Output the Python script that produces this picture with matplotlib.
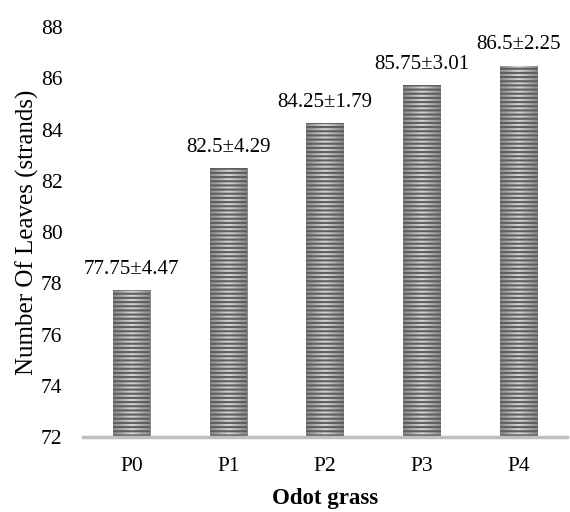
import matplotlib
matplotlib.use("Agg")
import matplotlib.pyplot as plt
import numpy as np
from matplotlib.colors import LinearSegmentedColormap

categories = ["P0", "P1", "P2", "P3", "P4"]
means = [77.75, 82.5, 84.25, 85.75, 86.5]
sds = [4.47, 4.29, 1.79, 3.01, 2.25]
labels = ["77.75±4.47", "82.5±4.29", "84.25±1.79", "85.75±3.01", "86.5±2.25"]
yticks = [72, 74, 76, 78, 80, 82, 84, 86, 88]

plt.rcParams['font.family'] = ['Liberation Serif', 'DejaVu Serif']
plt.rcParams['hatch.linewidth'] = 1.5

fig = plt.figure(figsize=(5.7, 5.12), dpi=100)
ax = fig.add_axes([0.146, 0.146, 0.849, 0.801])

x = list(range(len(categories)))
width = 0.39
bars = ax.bar(x, [m - 72 for m in means], bottom=72, width=width,
              color='none', edgecolor='#5e5e5e', linewidth=0, hatch='----', zorder=3)

# horizontal gradient fill (darker edges, lighter centre)
cmap = LinearSegmentedColormap.from_list('g', ['#8a8a8a', '#d6d6d6', '#8a8a8a'])
grad = np.linspace(0, 1, 64).reshape(1, -1)
for b in bars:
    im = ax.imshow(grad, cmap=cmap, aspect='auto', zorder=2,
                   extent=(b.get_x(), b.get_x() + b.get_width(), b.get_y(), b.get_y() + b.get_height()))
    im.set_clip_path(b)

for i, (m, lab) in enumerate(zip(means, labels)):
    ax.annotate(lab, (i, m), xytext=(0, 8), textcoords='offset points',
                ha='center', va='bottom', fontsize=15)

ax.set_ylim(72, 88)
ax.set_xlim(-0.5, len(categories) - 0.5)
ax.set_yticks(yticks)
ax.set_xticks(x)
ax.set_xticklabels(categories)
ax.tick_params(axis='both', length=0, labelsize=15.5)
ax.tick_params(axis='y', pad=15)
ax.tick_params(axis='x', pad=14)
for s in ['top', 'right', 'left']:
    ax.spines[s].set_visible(False)
ax.spines['bottom'].set_color('#bfbfbf')
ax.spines['bottom'].set_linewidth(2.5)
ax.spines['bottom'].set_zorder(4)
ax.set_ylabel('Number Of Leaves (strands)', fontsize=18, labelpad=1)
ax.set_xlabel('Odot grass', fontsize=16.5, fontweight='bold', labelpad=9)

fig.savefig('out.png', dpi=100)
